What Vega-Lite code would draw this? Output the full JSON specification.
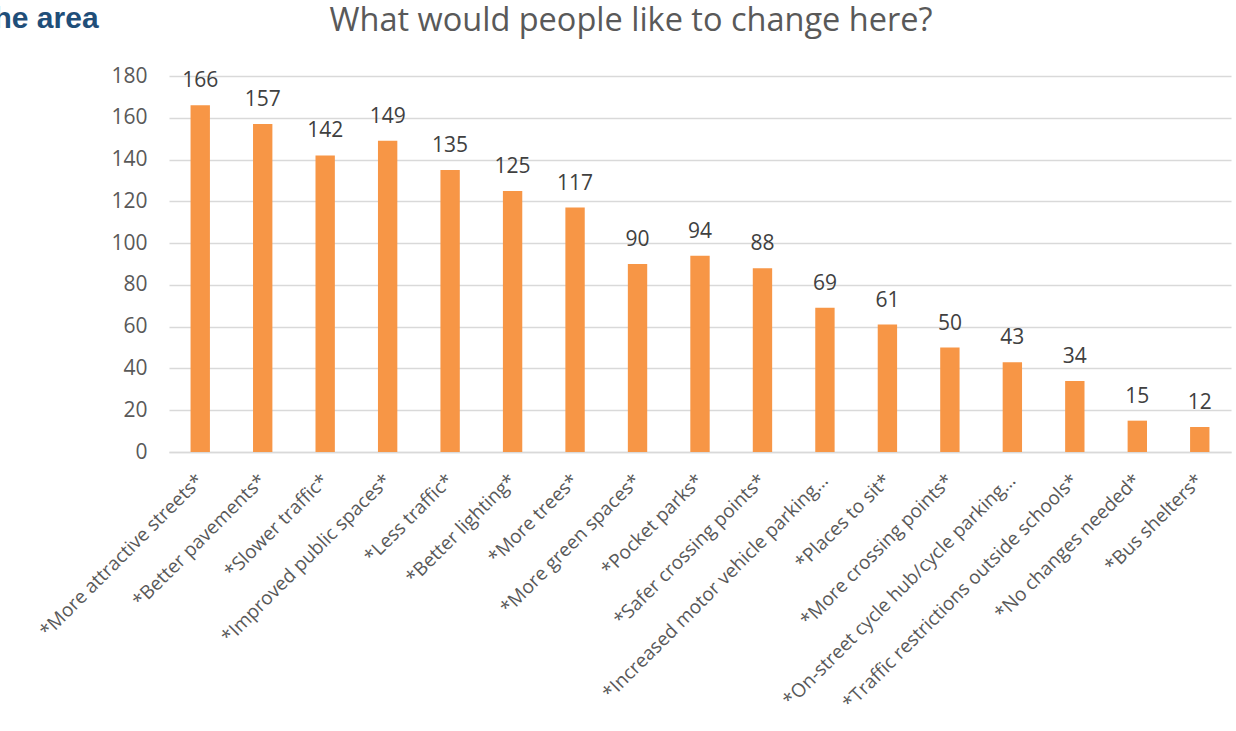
{
  "$schema": "https://vega.github.io/schema/vega-lite/v6.json",
  "width": 1062,
  "height": 376,
  "autosize": "none",
  "padding": {"left": 169, "top": 76, "right": 5, "bottom": 279},
  "background": "white",
  "title": {
    "text": "What would people like to change here?",
    "anchor": "middle",
    "dx": -69,
    "offset": -60,
    "baseline": "alphabetic",
    "font": "Open Sans",
    "fontSize": 32.5,
    "fontWeight": "normal",
    "color": "#595959"
  },
  "data": {
    "values": [
      {"item": "*More attractive streets*", "count": 166},
      {"item": "*Better pavements*", "count": 157},
      {"item": "*Slower traffic*", "count": 142},
      {"item": "*Improved public spaces*", "count": 149},
      {"item": "*Less traffic*", "count": 135},
      {"item": "*Better lighting*", "count": 125},
      {"item": "*More trees*", "count": 117},
      {"item": "*More green spaces*", "count": 90},
      {"item": "*Pocket parks*", "count": 94},
      {"item": "*Safer crossing points*", "count": 88},
      {"item": "*Increased motor vehicle parking…", "count": 69},
      {"item": "*Places to sit*", "count": 61},
      {"item": "*More crossing points*", "count": 50},
      {"item": "*On-street cycle hub/cycle parking…", "count": 43},
      {"item": "*Traffic restrictions outside schools*", "count": 34},
      {"item": "*No changes needed*", "count": 15},
      {"item": "*Bus shelters*", "count": 12}
    ]
  },
  "encoding": {
    "x": {
      "field": "item",
      "type": "nominal",
      "sort": null,
      "scale": {"paddingInner": 0.69, "paddingOuter": 0.345},
      "axis": {
        "title": null,
        "labelAngle": -45,
        "labelAlign": "right",
        "labelBaseline": "middle",
        "labelPadding": 25,
        "labelLimit": 400,
        "labelFont": "Open Sans",
        "labelFontSize": 19,
        "labelColor": "#595959",
        "ticks": false,
        "domainColor": "#D9D9D9",
        "domainWidth": 1.5
      }
    },
    "y": {
      "field": "count",
      "type": "quantitative",
      "scale": {"domain": [0, 180]},
      "axis": {
        "values": [0, 20, 40, 60, 80, 100, 120, 140, 160, 180],
        "title": "he area",
        "titleAngle": 0,
        "titleX": -176,
        "titleY": -49,
        "titleAlign": "left",
        "titleBaseline": "alphabetic",
        "titleFont": "Liberation Sans",
        "titleFontSize": 30,
        "titleFontWeight": "bold",
        "titleColor": "#1F4E79",
        "labelFont": "Open Sans",
        "labelFontSize": 21,
        "labelColor": "#595959",
        "labelPadding": 22,
        "ticks": false,
        "domain": false,
        "gridColor": "#D9D9D9",
        "gridWidth": 1.5
      }
    }
  },
  "layer": [
    {"mark": {"type": "bar", "color": "#F79646"}},
    {
      "mark": {
        "type": "text",
        "baseline": "alphabetic",
        "dy": -18,
        "font": "Open Sans",
        "fontSize": 21,
        "color": "#404040"
      },
      "encoding": {"text": {"field": "count", "type": "quantitative"}}
    }
  ],
  "config": {"view": {"stroke": null}}
}
